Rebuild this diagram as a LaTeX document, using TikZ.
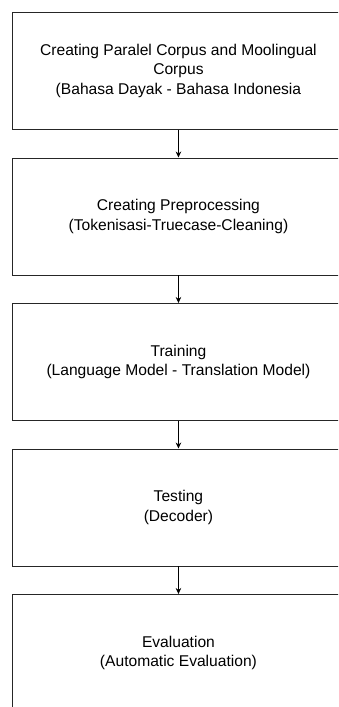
\documentclass[tikz,border=0pt]{standalone}
\usepackage{fontspec}
\setmainfont{Liberation Sans}
\usetikzlibrary{arrows.meta}
\begin{document}
\begin{tikzpicture}[x=1pt,y=-1pt,
  stepbox/.style={draw=black!85,line width=0.9pt,minimum width=332pt,minimum height=117pt,
    anchor=north west,align=center,inner sep=0pt,
    font=\fontsize{15.6}{19.4}\selectfont},
  flow/.style={draw=black,line width=0.8pt,-{Stealth[length=6pt,width=5.5pt]}}]
\useasboundingbox (0,0) rectangle (338,707);
\clip (0,0) rectangle (338,707);
\node[stepbox] (b1) at (12,12) {Creating Paralel Corpus and Moolingual\\Corpus\\(Bahasa Dayak - Bahasa Indonesia};
\node[stepbox] (b2) at (12,157.5) {Creating Preprocessing\\(Tokenisasi-Truecase-Cleaning)};
\node[stepbox] (b3) at (12,303) {Training\\(Language Model - Translation Model)};
\node[stepbox] (b4) at (12,448.5) {Testing\\(Decoder)};
\node[stepbox] (b5) at (12,594) {Evaluation\\(Automatic Evaluation)};
\draw[flow] (b1.south) -- (b2.north);
\draw[flow] (b2.south) -- (b3.north);
\draw[flow] (b3.south) -- (b4.north);
\draw[flow] (b4.south) -- (b5.north);
\end{tikzpicture}
\end{document}
